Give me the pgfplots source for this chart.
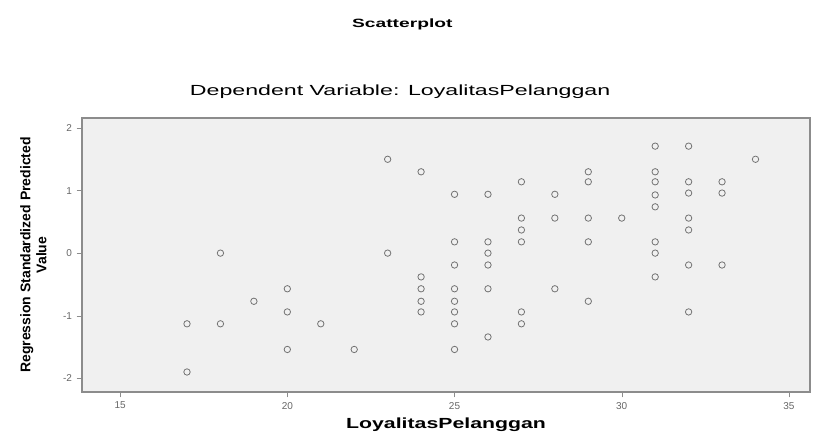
\documentclass[border=0pt]{standalone}
\usepackage{fontspec}
\setmainfont{Liberation Sans}
\usepackage{pgfplots}
\pgfplotsset{compat=1.18}
\begin{document}
\begin{tikzpicture}
\begin{axis}[
  scale only axis,
  width=546pt, height=205.5pt,
  xmin=13.86, xmax=35.63,
  ymin=-2.22, ymax=2.16,
  xtick={15,20,25,30,35},
  ytick={-2,-1,0,1,2},
  tick align=outside,
  tick pos=left,
  major tick length=4pt,
  axis background/.style={fill=black!6},
  axis line style={black!45, line width=1pt},
  tick style={black!45},
  ticklabel style={font=\fontsize{7.5}{8}\selectfont, text=black!60},
  /pgf/number format/assume math mode=true,
  xlabel={\scalebox{1.45}[1]{\bfseries LoyalitasPelanggan}},
  xlabel style={font=\fontsize{11}{13}\selectfont, yshift=0pt},
  ylabel={\bfseries\begin{tabular}{c}Regression Standardized Predicted\\Value\end{tabular}},
  ylabel style={font=\fontsize{10.5}{12}\selectfont, yshift=2pt},
  clip=false,
]
\addplot[only marks, mark=o, mark size=2.4pt, mark options={draw=black!55, line width=0.6pt}] table {
x y
17 -1.13
17 -1.90
18 0.00
18 -1.13
19 -0.77
20 -0.57
20 -0.94
20 -1.54
21 -1.13
22 -1.54
23 1.50
23 0.00
24 1.30
24 -0.38
24 -0.57
24 -0.77
24 -0.94
25 0.94
25 0.18
25 -0.19
25 -0.57
25 -0.77
25 -0.94
25 -1.13
25 -1.54
26 0.94
26 0.18
26 0.00
26 -0.19
26 -0.57
26 -1.34
27 1.14
27 0.56
27 0.37
27 0.18
27 -0.94
27 -1.13
28 0.94
28 0.56
28 -0.57
29 1.30
29 1.14
29 0.56
29 0.18
29 -0.77
30 0.56
31 1.71
31 1.30
31 1.14
31 0.93
31 0.74
31 0.18
31 0.00
31 -0.38
32 1.71
32 1.14
32 0.96
32 0.56
32 0.37
32 -0.19
32 -0.94
33 1.14
33 0.96
33 -0.19
34 1.50
};
\node[font=\fontsize{11}{13}\selectfont, anchor=base] at (rel axis cs:0.437,1) [yshift=17pt] {\scalebox{1.58}[1]{Dependent Variable: LoyalitasPelanggan}};
\node[font=\bfseries\fontsize{9}{11}\selectfont, anchor=base] at (rel axis cs:0.44,1) [yshift=68pt] {\scalebox{1.6}[1]{Scatterplot}};
\end{axis}
\pgfresetboundingbox
\path[use as bounding box] (current axis.south west) ++(-61.5pt,-36.75pt) rectangle ([xshift=6.75pt,yshift=88.5pt]current axis.north east);
\end{tikzpicture}
\end{document}
